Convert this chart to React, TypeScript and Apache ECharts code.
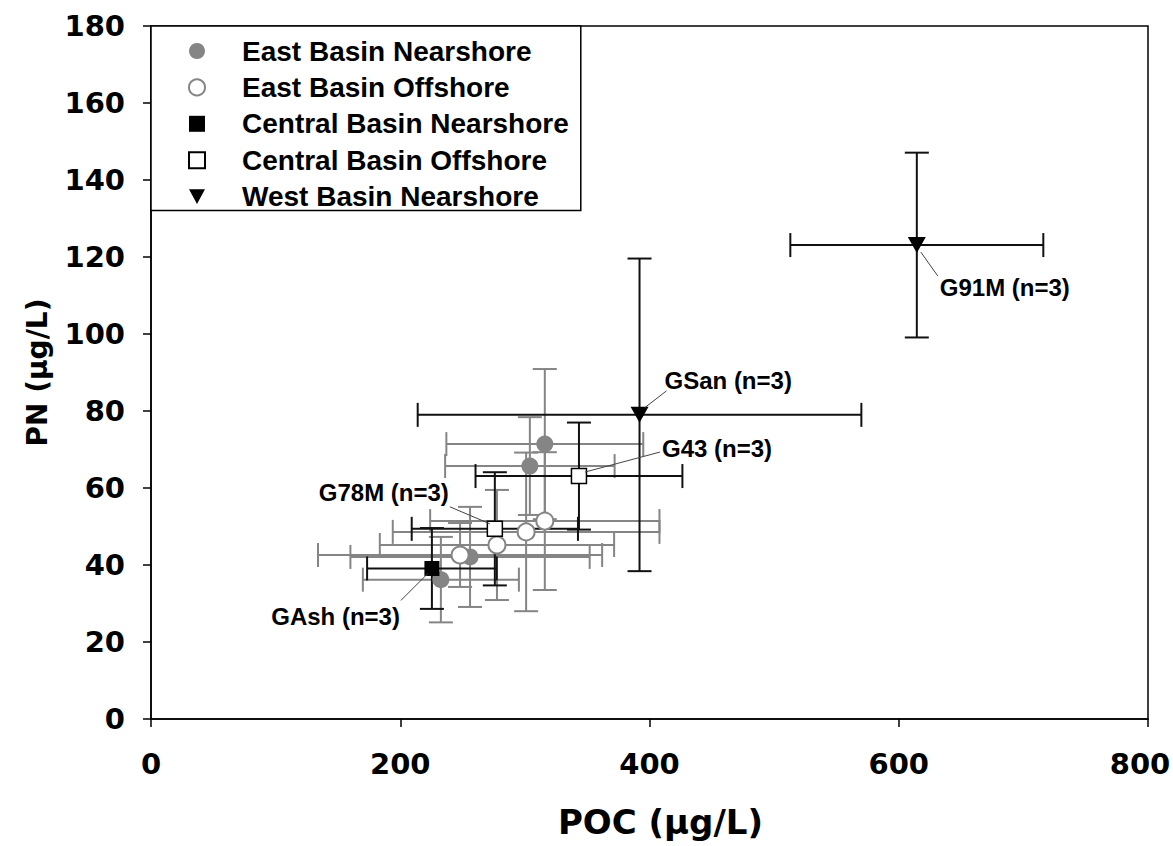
import React, { useEffect, useRef } from "react";
import * as echarts from "echarts";

// ---- data (POC µg/L, PN µg/L, ±SD on each) ----
const seriesNames = [
  "East Basin Nearshore",
  "East Basin Offshore",
  "Central Basin Nearshore",
  "Central Basin Offshore",
  "West Basin Nearshore",
];

const eastNearPOC = [316, 304, 256, 232.6];
const eastNearPN = [71.4, 65.7, 42.1, 36.2];
const eastNearPOCsd = [79, 68, 96, 62.6];
const eastNearPNsd = [19.5, 12.7, 13, 11.1];

const eastOffPOC = [248, 277.6, 301, 316];
const eastOffPN = [42.6, 45.2, 48.6, 51.4];
const eastOffPOCsd = [114, 94, 107, 92];
const eastOffPNsd = [8.3, 14.3, 20.6, 17.9];

const centNearPOC = [225.4];
const centNearPN = [39.1];
const centNearPOCsd = [52];
const centNearPNsd = [10.5];
const centNearLabels = ["GAsh (n=3)"];

const centOffPOC = [343.4, 275.9];
const centOffPN = [63.1, 49.4];
const centOffPOCsd = [83, 66.7];
const centOffPNsd = [13.9, 14.7];
const centOffLabels = ["G43 (n=3)", "G78M (n=3)"];

const westNearPOC = [614.5, 392];
const westNearPN = [123.1, 79];
const westNearPOCsd = [101.5, 178];
const westNearPNsd = [24, 40.6];
const westNearLabels = ["G91M (n=3)", "GSan (n=3)"];

const xTicks = { min: 0, max: 800, interval: 200 };
const yTicks = { min: 0, max: 180, interval: 20 };

// label placement (pixel offsets from the point): text anchor + leader line
const labelPlacement: Record<string, { dx: number; dy: number; align: string; l: number[] }> = {
  "G91M (n=3)": { dx: 23, dy: 42, align: "left", l: [4, 7, 21, 31] },
  "GSan (n=3)": { dx: 25, dy: -34, align: "left", l: [5, -7, 27, -24] },
  "G43 (n=3)": { dx: 83, dy: -28, align: "left", l: [6, -4, 81, -24] },
  "G78M (n=3)": { dx: -46, dy: -36, align: "right", l: [-45, -22, -5, -5] },
  "GAsh (n=3)": { dx: -32, dy: 48, align: "right", l: [-31, 32, -4, 5] },
};

function rows(xs: number[], ys: number[], xe: number[], ye: number[]) {
  return xs.map((x, i) => [x, ys[i], xe[i], ye[i]]);
}

function errRenderer(color: string) {
  return (params: any, api: any) => {
    const x = api.value(0);
    const y = api.value(1);
    const xe = api.value(2);
    const ye = api.value(3);
    const l = api.coord([x - xe, y]);
    const r = api.coord([x + xe, y]);
    const t = api.coord([x, y + ye]);
    const b = api.coord([x, y - ye]);
    const c = 12;
    const style = { stroke: color, lineWidth: 2 };
    const ln = (x1: number, y1: number, x2: number, y2: number) => ({
      type: "line",
      shape: { x1, y1, x2, y2 },
      style,
    });
    return {
      type: "group",
      children: [
        ln(l[0], l[1], r[0], r[1]),
        ln(l[0], l[1] - c, l[0], l[1] + c),
        ln(r[0], r[1] - c, r[0], r[1] + c),
        ln(t[0], t[1], b[0], b[1]),
        ln(t[0] - c, t[1], t[0] + c, t[1]),
        ln(b[0] - c, b[1], b[0] + c, b[1]),
      ],
    };
  };
}

const GRAY = "#858585";
const BLACK = "#111111";

export default function App() {
  const ref = useRef<HTMLDivElement>(null);

  useEffect(() => {
    if (!ref.current) return;
    const chart = echarts.init(ref.current, undefined, { renderer: "svg" });

    const labelData = [
      ...centNearLabels.map((n, i) => ({ value: [centNearPOC[i], centNearPN[i]], name: n })),
      ...centOffLabels.map((n, i) => ({ value: [centOffPOC[i], centOffPN[i]], name: n })),
      ...westNearLabels.map((n, i) => ({ value: [westNearPOC[i], westNearPN[i]], name: n })),
    ];

    const tickFont = { fontFamily: "DejaVu Sans", fontWeight: "bold" as const, fontSize: 29, color: "#000" };
    const sq = "path://M0,0 L10,0 L10,10 L0,10 Z";

    const option: any = {
      animation: false,
      backgroundColor: "#fff",
      grid: {
        left: 151,
        right: 25,
        top: 26,
        bottom: 127,
        outerBoundsMode: "none",
        containLabel: false,
        show: true,
        borderColor: "#000",
        borderWidth: 1.5,
        backgroundColor: "transparent",
      },
      legend: {
        data: [
          { name: seriesNames[0], icon: "circle" },
          { name: seriesNames[1], icon: "circle" },
          { name: seriesNames[2], icon: sq },
          { name: seriesNames[3], icon: sq },
          { name: seriesNames[4], icon: "path://M0,0 L12,0 L6,11 Z" },
        ],
        orient: "vertical",
        left: 151,
        top: 26,
        itemWidth: 16,
        itemHeight: 16,
        itemGap: 8.4,
        padding: [11, 12, 0, 37],
        borderColor: "#000",
        borderWidth: 1.5,
        backgroundColor: "#fff",
        selectedMode: false,
        textStyle: {
          fontFamily: "Liberation Sans",
          fontWeight: "bold",
          fontSize: 28,
          lineHeight: 26,
          color: "#000",
          padding: [0, 0, 0, 32],
        },
      },
      xAxis: {
        type: "value",
        ...xTicks,
        name: "POC (μg/L)",
        nameLocation: "middle",
        nameGap: 86,
        nameTextStyle: {
          fontFamily: "DejaVu Sans",
          fontWeight: "bold",
          fontSize: 34,
          color: "#000",
          padding: [0, 0, 0, 22],
        },
        axisLine: { show: true, lineStyle: { color: "#000", width: 1.5 } },
        axisTick: { show: true, inside: false, length: 8, lineStyle: { color: "#000", width: 1.5 } },
        axisLabel: {
          ...tickFont,
          margin: 30,
          formatter: (v: number) => (v === xTicks.max ? `{e|${v}}` : `${v}`),
          rich: { e: { ...tickFont, padding: [0, 16, 0, 0] } },
        },
        splitLine: { show: false },
      },
      yAxis: {
        type: "value",
        ...yTicks,
        name: "PN (μg/L)",
        nameLocation: "middle",
        nameGap: 100,
        nameTextStyle: { fontFamily: "DejaVu Sans", fontWeight: "bold", fontSize: 28, color: "#000" },
        axisLine: { show: true, lineStyle: { color: "#000", width: 1.5 } },
        axisTick: { show: true, inside: false, length: 8, lineStyle: { color: "#000", width: 1.5 } },
        axisLabel: { ...tickFont, margin: 26 },
        splitLine: { show: false },
      },
      series: [
        {
          name: "err-east-near",
          type: "custom",
          z: 1,
          renderItem: errRenderer(GRAY),
          data: rows(eastNearPOC, eastNearPN, eastNearPOCsd, eastNearPNsd),
          encode: { x: 0, y: 1 },
          silent: true,
        },
        {
          name: "err-east-off",
          type: "custom",
          z: 1,
          renderItem: errRenderer(GRAY),
          data: rows(eastOffPOC, eastOffPN, eastOffPOCsd, eastOffPNsd),
          encode: { x: 0, y: 1 },
          silent: true,
        },
        {
          name: "err-cent-near",
          type: "custom",
          z: 2,
          renderItem: errRenderer(BLACK),
          data: rows(centNearPOC, centNearPN, centNearPOCsd, centNearPNsd),
          encode: { x: 0, y: 1 },
          silent: true,
        },
        {
          name: "err-cent-off",
          type: "custom",
          z: 2,
          renderItem: errRenderer(BLACK),
          data: rows(centOffPOC, centOffPN, centOffPOCsd, centOffPNsd),
          encode: { x: 0, y: 1 },
          silent: true,
        },
        {
          name: "err-west-near",
          type: "custom",
          z: 2,
          renderItem: errRenderer(BLACK),
          data: rows(westNearPOC, westNearPN, westNearPOCsd, westNearPNsd),
          encode: { x: 0, y: 1 },
          silent: true,
        },
        {
          name: seriesNames[0],
          type: "scatter",
          z: 5,
          symbol: "circle",
          symbolSize: 17,
          itemStyle: { color: GRAY, borderColor: GRAY, borderWidth: 0, opacity: 1 },
          data: eastNearPOC.map((x, i) => [x, eastNearPN[i]]),
        },
        {
          name: seriesNames[1],
          type: "scatter",
          z: 5,
          symbol: "circle",
          symbolSize: 17,
          itemStyle: { color: "#fff", borderColor: GRAY, borderWidth: 2, opacity: 1 },
          data: eastOffPOC.map((x, i) => [x, eastOffPN[i]]),
        },
        {
          name: seriesNames[2],
          type: "scatter",
          z: 6,
          symbol: "rect",
          symbolSize: 15,
          itemStyle: { color: "#000", borderColor: "#000", borderWidth: 0, opacity: 1 },
          data: centNearPOC.map((x, i) => [x, centNearPN[i]]),
        },
        {
          name: seriesNames[3],
          type: "scatter",
          z: 6,
          symbol: "rect",
          symbolSize: 15,
          itemStyle: { color: "#fff", borderColor: "#000", borderWidth: 1.5, opacity: 1 },
          data: centOffPOC.map((x, i) => [x, centOffPN[i]]),
        },
        {
          name: seriesNames[4],
          type: "scatter",
          z: 6,
          symbol: "triangle",
          symbolRotate: 180,
          symbolSize: [18, 16],
          itemStyle: { color: "#000", borderColor: "#000", borderWidth: 0, opacity: 1 },
          data: westNearPOC.map((x, i) => [x, westNearPN[i]]),
        },
        {
          name: "site-labels",
          type: "custom",
          z: 7,
          silent: true,
          encode: { x: 0, y: 1 },
          data: labelData,
          renderItem: (params: any, api: any) => {
            const name = labelData[params.dataIndex].name;
            const p = api.coord([api.value(0), api.value(1)]);
            const pl = labelPlacement[name];
            return {
              type: "group",
              children: [
                {
                  type: "line",
                  shape: { x1: p[0] + pl.l[0], y1: p[1] + pl.l[1], x2: p[0] + pl.l[2], y2: p[1] + pl.l[3] },
                  style: { stroke: "#444", lineWidth: 1 },
                },
                {
                  type: "text",
                  x: p[0] + pl.dx,
                  y: p[1] + pl.dy,
                  style: {
                    text: name,
                    fontFamily: "Liberation Sans",
                    fontWeight: "bold",
                    fontSize: 24,
                    fill: "#000",
                    align: pl.align,
                    verticalAlign: "middle",
                  },
                },
              ],
            };
          },
        },
      ],
    };

    chart.setOption(option);
    return () => chart.dispose();
  }, []);

  return <div ref={ref} style={{ position: "fixed", left: 0, top: 0, width: 1173, height: 846 }} />;
}
